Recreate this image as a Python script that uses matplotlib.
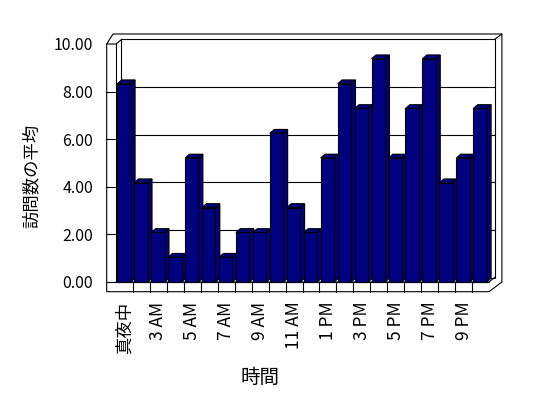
import matplotlib
matplotlib.use("Agg")
import matplotlib.pyplot as plt
from matplotlib.patches import Polygon, Rectangle

plt.rcParams['font.family'] = ['Noto Sans CJK JP', 'DejaVu Sans']

# average visits per hour (1 AM and 11 PM have no data)
hours = ['真夜中', '2 AM', '3 AM', '4 AM', '5 AM', '6 AM', '7 AM', '8 AM', '9 AM', '10 AM',
         '11 AM', '12 PM', '1 PM', '2 PM', '3 PM', '4 PM', '5 PM', '6 PM', '7 PM', '8 PM',
         '9 PM', '10 PM']
avg_visits = [8.33, 4.17, 2.08, 1.04, 5.21, 3.13, 1.04, 2.08, 2.08, 6.25, 3.13,
              2.08, 5.21, 8.33, 7.29, 9.38, 5.21, 7.29, 9.38, 4.17, 5.21, 7.29]
y_ticks = [0, 2, 4, 6, 8, 10]

W, H = 548, 398
L, R, B, T = 116, 489, 282, 44   # front plane in pixels
fig = plt.figure(figsize=(W / 100, H / 100), dpi=100)
ax = fig.add_axes([L / W, 1 - B / H, (R - L) / W, (B - T) / H])
n = len(hours)
x0, x1 = -0.5, n - 0.5
ax.set_xlim(x0, x1)
ax.set_ylim(0, 10)
for s in ax.spines.values():
    s.set_visible(False)


def px_x(p):
    return p * n / (R - L)


def px_y(p):
    return p * 10 / (B - T)


lw = 0.8
DX, DY = px_x(5.5), px_y(4.5)          # box depth
LW, FT = px_x(9.3), px_y(9.7)          # left wall / floor thickness
TOP, RW = px_y(5.5), px_x(7.4)          # back wall thickness
kw = dict(clip_on=False, edgecolor='black', linewidth=lw)

# outer silhouette of the walls + floor
outer = [(x0 - LW, -FT), (x0 - LW, 10), (x0 - LW + px_x(6.3), 10 + DY + TOP),
         (x1 + DX + RW, 10 + DY + TOP), (x1 + DX + RW, 0), (x1, -FT)]
ax.add_patch(Polygon(outer, closed=True, facecolor='white', zorder=0, **kw))
# back wall
ax.add_patch(Rectangle((x0 + DX, DY), x1 - x0, 10, facecolor='white', zorder=0.5, **kw))

line = dict(color='black', linewidth=lw, clip_on=False, zorder=1)
ax.plot([x0, x0], [0, 10], **line)
ax.plot([x0 - LW, x0, x0 + DX], [10, 10, 10 + DY], **line)
ax.plot([x0 - LW, x1], [0, 0], **line)
ax.plot([x0, x1, x1 + DX], [0, 0, DY], **line)
ax.plot([x1 + DX, x1 + DX + RW], [10 + DY, 10 + DY + TOP], **line)
for k in range(1, n):
    ax.plot([x0 + k, x0 + k], [-FT, 0], **line)
for v in y_ticks[1:-1]:
    ax.plot([x0 - LW, x0], [v, v], **line)
    ax.plot([x0 + DX, x1 + DX], [v + DY, v + DY], **line)

# bars with fake depth
bw = 0.79
bdx, bdy = px_x(4.4), px_y(3.8)
navy = '#000080'
for i, v in enumerate(avg_visits):
    z = 2 + i * 0.01
    xl, xr = i - bw / 2 - 0.03, i + bw / 2 - 0.03
    ax.add_patch(Polygon([(xr, 0), (xr + bdx, bdy), (xr + bdx, v + bdy), (xr, v)],
                         facecolor=navy, zorder=z, **kw))
    ax.add_patch(Polygon([(xl, v), (xr, v), (xr + bdx, v + bdy), (xl + bdx, v + bdy)],
                         facecolor=navy, zorder=z, **kw))
    ax.add_patch(Rectangle((xl, 0), bw, v, facecolor=navy, zorder=z + 0.005, **kw))

ax.set_yticks(y_ticks)
ax.set_yticklabels([f"{v:.2f}" for v in y_ticks], fontsize=11.5)
ax.set_xticks(range(0, n, 2))
ax.set_xticklabels(hours[::2], rotation=90, fontsize=12.5, va='top', ha='center')
ax.tick_params(axis='y', length=0, pad=16.5)
ax.tick_params(axis='x', length=0, pad=14)

fig.text(32 / W, 1 - 176 / H, '訪問数の平均', rotation=90, ha='center', va='center', fontsize=12.5)
fig.text(260 / W, 1 - 377 / H, '時間', ha='center', va='center', fontsize=14)

fig.savefig('out.png', dpi=100)
